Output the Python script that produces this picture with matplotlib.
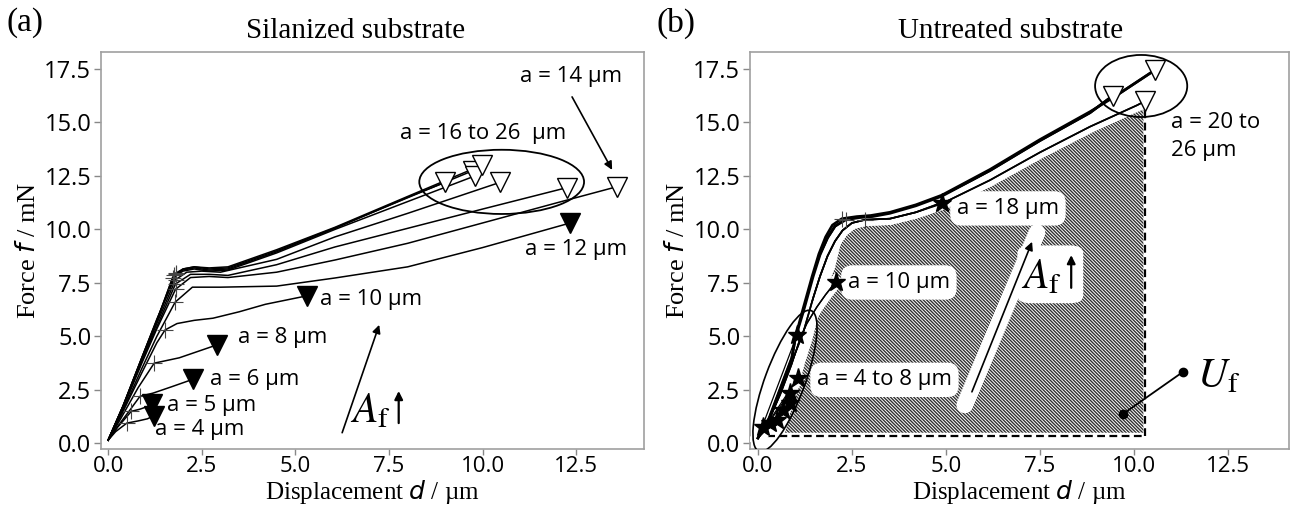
import numpy as np
import matplotlib.pyplot as plt
import matplotlib.patheffects as pe
from matplotlib.patches import Ellipse, Polygon, FancyBboxPatch
from matplotlib.transforms import ScaledTranslation

plt.rcParams['font.family'] = ['Open Sans', 'DejaVu Sans']
plt.rcParams['hatch.linewidth'] = 1.0
SERIF = 'Liberation Serif'

# ---------------- (a) silanized substrate: force f (mN) vs displacement d (um)
# one curve per crack length a (um); filled marker = a <= 12 um
sil_a = [4, 5, 6, 8, 10, 12, 14, 16, 18, 20, 22, 24, 26]
sil_x = [
    [0, 0.2, 0.5, 0.8, 1.05, 1.23],
    [0, 0.25, 0.62, 0.85, 1.05, 1.17],
    [0, 0.3, 0.6, 0.85, 1.2, 1.7, 2.27],
    [0, 0.35, 0.8, 1.23, 1.5, 1.9, 2.4, 2.9],
    [0, 0.4, 0.9, 1.3, 1.52, 1.84, 2.3, 2.8, 3.5, 4.2, 5.32],
    [0, 0.4, 0.9, 1.3, 1.79, 2.25, 3.0, 4.5, 6.06, 8.0, 10.0, 12.34],
    [0, 0.4, 0.9, 1.3, 1.8, 2.2, 2.7, 3.2, 4.5, 6.06, 8.0, 10.0, 12.0, 13.6],
    [0, 0.4, 0.9, 1.3, 1.8, 2.2, 2.7, 3.2, 4.5, 6.06, 8.0, 10.0, 12.25],
    [0, 0.4, 0.9, 1.3, 1.8, 2.1, 2.5, 3.0, 4.5, 6.06, 8.0, 10.47],
    [0, 0.4, 0.9, 1.3, 1.75, 2.0, 2.3, 2.7, 3.2, 4.5, 6.06, 8.0, 9.0],
    [0, 0.4, 0.9, 1.3, 1.8, 2.0, 2.3, 2.7, 3.2, 4.5, 6.06, 8.0, 9.75],
    [0, 0.4, 0.9, 1.3, 1.72, 2.0, 2.3, 2.7, 3.2, 4.5, 6.06, 8.0, 9.8],
    [0, 0.4, 0.9, 1.3, 1.82, 2.0, 2.3, 2.7, 3.2, 4.5, 6.06, 8.0, 9.98],
]
sil_y = [
    [0.15, 0.55, 0.95, 1.05, 1.15, 1.3],
    [0.15, 0.75, 1.5, 1.6, 1.72, 1.85],
    [0.15, 0.9, 1.6, 2.2, 2.35, 2.65, 3.0],
    [0.15, 1.2, 2.6, 3.75, 3.85, 4.0, 4.3, 4.6],
    [0.15, 1.5, 3.3, 4.7, 5.3, 5.6, 5.75, 5.85, 6.15, 6.5, 6.9],
    [0.15, 1.55, 3.5, 5.0, 6.6, 7.3, 7.3, 7.35, 7.73, 8.25, 9.15, 10.3],
    [0.15, 1.65, 3.75, 5.35, 7.2, 7.75, 7.8, 7.75, 8.0, 8.57, 9.35, 10.3, 11.25, 12.0],
    [0.15, 1.7, 3.85, 5.45, 7.45, 7.9, 7.9, 7.85, 8.35, 9.18, 10.05, 10.95, 11.95],
    [0.15, 1.72, 3.9, 5.6, 7.65, 8.0, 8.05, 8.0, 8.6, 9.65, 10.75, 12.2],
    [0.15, 1.75, 4.0, 5.75, 7.85, 8.1, 8.2, 8.1, 8.15, 8.95, 10.05, 11.5, 12.2],
    [0.15, 1.75, 4.0, 5.75, 7.95, 8.15, 8.25, 8.15, 8.2, 9.0, 10.07, 11.48, 12.75],
    [0.15, 1.74, 3.95, 5.7, 7.75, 8.05, 8.15, 8.05, 8.1, 8.9, 10.0, 11.3, 12.5],
    [0.15, 1.76, 4.0, 5.8, 7.9, 8.15, 8.25, 8.2, 8.25, 9.05, 10.1, 11.54, 13.0],
]
sil_cross = [2, 2, 3, 3, 4, 4, 4, 4, 4, 4, 4, 4, 4]   # index of the "+" point
sil_filled = [True, True, True, True, True, True,
              False, False, False, False, False, False, False]

# ---------------- (b) untreated substrate
unt_x = [
    [0, 0.3, 0.6, 0.9, 1.0, 1.17, 1.44, 1.62, 1.8, 1.98, 2.23, 2.63, 3.0, 3.51,
     4.2, 4.89, 6.17, 7.5, 8.83, 9.44, 10.56],
    [0, 0.3, 0.6, 0.9, 1.0, 1.2, 1.47, 1.65, 1.85, 2.05, 2.34, 2.7, 3.05, 3.51,
     4.2, 4.89, 6.17, 7.5, 8.83, 9.44],
    [0, 0.3, 0.6, 0.9, 1.2, 1.47, 1.65, 1.85, 2.05, 2.25, 2.5, 2.85, 3.51, 4.2,
     4.89, 6.17, 7.5, 8.83, 10.08, 10.3],
    [0, 0.3, 0.6, 0.9, 1.2, 1.47, 1.65, 1.85, 2.05, 2.25, 2.5, 2.85, 3.51, 4.2,
     4.89],
    [0, 0.3, 0.6, 0.9, 1.12, 1.3, 1.57, 1.8, 2.07],
]
unt_y = [
    [0.25, 1.2, 2.6, 4.0, 4.98, 6.1, 7.8, 8.85, 9.65, 10.2, 10.5, 10.6, 10.65,
     10.8, 11.15, 11.6, 12.8, 14.2, 15.5, 16.15, 17.45],
    [0.25, 1.15, 2.55, 3.95, 4.95, 6.1, 7.8, 8.8, 9.6, 10.15, 10.45, 10.55,
     10.6, 10.75, 11.1, 11.55, 12.75, 14.15, 15.45, 16.25],
    [0.25, 1.1, 2.4, 3.8, 5.15, 6.8, 7.8, 8.75, 9.45, 9.95, 10.3, 10.45, 10.5,
     10.8, 11.2, 12.3, 13.6, 14.8, 15.8, 16.0],
    [0.25, 1.1, 2.4, 3.8, 5.15, 6.8, 7.8, 8.75, 9.45, 9.95, 10.3, 10.45, 10.5,
     10.8, 11.25],
    [0.25, 1.1, 2.3, 3.7, 4.9, 5.6, 6.38, 6.95, 7.55],
]
unt_lw = [1.9, 1.9, 1.2, 1.2, 1.0]
unt_cross = [10, 10, 11, None, None]
unt_end = ['v', 'v', 'v', '*', '*']
# short curves a = 4 to 8 um, ending with stars
small_x = [0.13, 0.32, 0.5, 0.66, 0.85, 0.85, 1.06, 1.04]
small_y = [0.77, 0.96, 1.1, 1.56, 1.89, 2.36, 3.06, 5.07]
small_x0, small_y0 = 0.0, 0.25

# U_f region (hatched) and its dashed bounds
uf_x = [0.72, 10.25, 10.25, 9.7, 8.8, 7.95, 7.0, 6.17, 5.3, 4.6, 4.0, 3.24,
        2.71, 2.37, 2.2, 2.05, 1.73, 1.44, 1.25, 1.04, 0.85]
uf_y = [0.5, 0.5, 15.6, 15.3, 14.5, 13.7, 12.85, 12.0, 11.35, 10.95, 10.7,
        10.45, 10.2, 9.83, 9.3, 8.2, 6.85, 4.8, 3.75, 2.36, 1.4]
uf_base, uf_right, uf_top = 0.33, 10.29, 15.6

fig = plt.figure(figsize=(12.9, 5.13), dpi=100)
ax1 = fig.add_axes([0.0783, 0.1248, 0.4209, 0.7739])
ax2 = fig.add_axes([0.5814, 0.1248, 0.4178, 0.7739])

for ax in (ax1, ax2):
    ax.set_ylim(-0.26, 18.29)
    ax.set_xticks([0, 2.5, 5, 7.5, 10, 12.5])
    ax.set_yticks([0, 2.5, 5, 7.5, 10, 12.5, 15, 17.5])
    ax.xaxis.set_major_formatter(plt.FormatStrFormatter('%.1f'))
    ax.yaxis.set_major_formatter(plt.FormatStrFormatter('%.1f'))
    ax.tick_params(labelsize=17, length=5, width=1, color='#888888', pad=2)
    ax.tick_params(axis='x', labelsize=16, length=4, pad=1)
    for s in ax.spines.values():
        s.set_color('#a0a0a0')
        s.set_linewidth(1.2)
    ax.set_xlabel('Displacement $d$ / µm', fontfamily=SERIF, fontsize=18, labelpad=1)
    ax.set_ylabel('Force $f$ / mN', fontfamily=SERIF, fontsize=19, labelpad=3)
ax1.set_xlim(-0.19, 14.31)
ax2.set_xlim(-0.21, 14.12)

ax1.set_title('Silanized substrate', fontfamily=SERIF, fontsize=21, pad=10, x=0.468)
ax2.set_title('Untreated substrate', fontfamily=SERIF, fontsize=21, pad=10, x=0.483)
fig.text(0.005, 0.955, '(a)', fontfamily=SERIF, fontsize=24, va='center')
fig.text(0.509, 0.955, '(b)', fontfamily=SERIF, fontsize=24, va='center')

# ---- panel (a)
for x, y, ci, filled in zip(sil_x, sil_y, sil_cross, sil_filled):
    ax1.plot(x, y, color='black', lw=1.1, zorder=3)
    ax1.plot(x[ci], y[ci], marker='+', ms=12, mew=0.8, color='#444444', zorder=4)
    ax1.plot(x[-1], y[-1], marker='v', ms=15, mew=1.0,
             mfc='black' if filled else 'white', mec='black', zorder=5)

lab = dict(fontsize=16, va='center', ha='left')
ax1.text(1.25, 0.63, 'a = 4 µm', **lab)
ax1.text(1.58, 1.78, 'a = 5 µm', **lab)
ax1.text(2.72, 2.99, 'a = 6 µm', **lab)
ax1.text(3.47, 4.95, 'a = 8 µm', **lab)
ax1.text(5.66, 6.73, 'a = 10 µm', **lab)
ax1.text(11.13, 9.04, 'a = 12 µm', **lab)
ax1.text(11.0, 17.15, 'a = 14 µm', **lab)
ax1.text(7.8, 14.49, 'a = 16 to 26  µm', **lab)
ax1.annotate('', xy=(13.46, 12.78), xytext=(12.39, 16.19),
             arrowprops=dict(arrowstyle='-|>', color='black', lw=1.2,
                             mutation_scale=12, shrinkA=0, shrinkB=0))
ax1.add_patch(Ellipse((10.51, 12.22), 4.4, 3.0, fill=False, lw=1.3,
                      color='black', zorder=4))
ax1.annotate('', xy=(7.24, 5.54), xytext=(6.25, 0.5),
             arrowprops=dict(arrowstyle='-|>', color='black', lw=1.2,
                             mutation_scale=12, shrinkA=0, shrinkB=0))
ax1.text(6.45, 1.0, r'$A_\mathrm{f}$', fontsize=30, math_fontfamily='stix',
         va='baseline', ha='left')
ax1.annotate('', xy=(7.76, 2.45), xytext=(7.76, 0.95),
             arrowprops=dict(arrowstyle='-|>', color='black', lw=1.6,
                             mutation_scale=12, shrinkA=0, shrinkB=0))

# ---- panel (b)
ax2.add_patch(Polygon(np.column_stack([uf_x, uf_y]), closed=True, fill=False,
                      hatch='\\' * 10, edgecolor='#303030', linewidth=0,
                      zorder=1))
dash = (0, (3.5, 2))
ax2.plot([-0.08, uf_right], [uf_base, uf_base], color='black', lw=1.6,
         ls=dash, zorder=2)
ax2.plot([uf_right, uf_right], [uf_base, uf_top], color='black', lw=1.6,
         ls=dash, zorder=2)

halo = [pe.withStroke(linewidth=9, foreground='white')]
for x, y in zip(small_x, small_y):
    ax2.plot([small_x0, x], [small_y0, y], color='black', lw=0.9, zorder=3,
             path_effects=halo)
for x, y, lw in zip(unt_x, unt_y, unt_lw):
    ax2.plot(x, y, color='black', lw=lw, zorder=3, path_effects=halo)
for x, y, lw in zip(unt_x, unt_y, unt_lw):
    ax2.plot(x, y, color='black', lw=lw, zorder=3.5)
for x, y in zip(small_x, small_y):
    ax2.plot([small_x0, x], [small_y0, y], color='black', lw=0.9, zorder=3.5)
for x, y, ci, m in zip(unt_x, unt_y, unt_cross, unt_end):
    if ci is not None:
        ax2.plot(x[ci], y[ci], marker='+', ms=12, mew=0.8, color='#444444', zorder=4)
    if m == 'v':
        ax2.plot(x[-1], y[-1], marker='v', ms=15, mew=1.0, mfc='white',
                 mec='black', zorder=5)
    else:
        ax2.plot(x[-1], y[-1], marker='*', ms=14, color='black', zorder=5)
ax2.plot(small_x, small_y, ls='none', marker='*', ms=14, color='black', zorder=5)

box = dict(boxstyle='round,pad=0.3,rounding_size=0.5', fc='white', ec='none')
ax2.text(2.39, 7.52, 'a = 10 µm', bbox=box, zorder=2.5, **lab)
ax2.text(1.57, 2.97, 'a = 4 to 8 µm', bbox=box, zorder=2.5, **lab)
ax2.text(5.29, 10.98, 'a = 18 µm', bbox=box, zorder=2.5, **lab)
ax2.text(10.98, 14.35, 'a = 20 to\n26 µm', fontsize=16, va='center',
         ha='left', linespacing=1.45)

ax2.add_patch(Ellipse((10.19, 16.7), 2.45, 2.9, fill=False, lw=1.3,
                      color='black', zorder=4))
tilt = fig.dpi_scale_trans + ScaledTranslation(0.72, 2.92, ax2.transData)
ax2.add_patch(Ellipse((0, 0), 1.5, 0.4, angle=69.7, fill=False, lw=1.2,
                      color='black', transform=tilt, zorder=4))

ax2.plot([5.5, 7.42], [1.8, 9.85], color='white', lw=12,
         solid_capstyle='round', zorder=2)
ax2.annotate('', xy=(7.29, 9.42), xytext=(5.69, 2.41),
             arrowprops=dict(arrowstyle='-|>', color='black', lw=1.2,
                             mutation_scale=12, shrinkA=0, shrinkB=0), zorder=3)
ax2.add_patch(FancyBboxPatch((6.9, 6.55), 1.75, 2.7,
                             boxstyle='round,pad=0,rounding_size=0.35',
                             fc='white', ec='none', zorder=2))
ax2.text(7.0, 7.25, r'$A_\mathrm{f}$', fontsize=30, math_fontfamily='stix',
         va='baseline', ha='left', zorder=4)
ax2.annotate('', xy=(8.33, 8.8), xytext=(8.33, 7.27),
             arrowprops=dict(arrowstyle='-|>', color='black', lw=1.6,
                             mutation_scale=12, shrinkA=0, shrinkB=0), zorder=4)

ax2.plot([9.71, 11.3], [1.38, 3.34], color='black', lw=1.3, marker='o', ms=6,
         zorder=4)
ax2.text(11.68, 2.6, r'$U_\mathrm{f}$', fontsize=30, math_fontfamily='stix',
         va='baseline', ha='left')

fig.savefig('out.png', dpi=100)
